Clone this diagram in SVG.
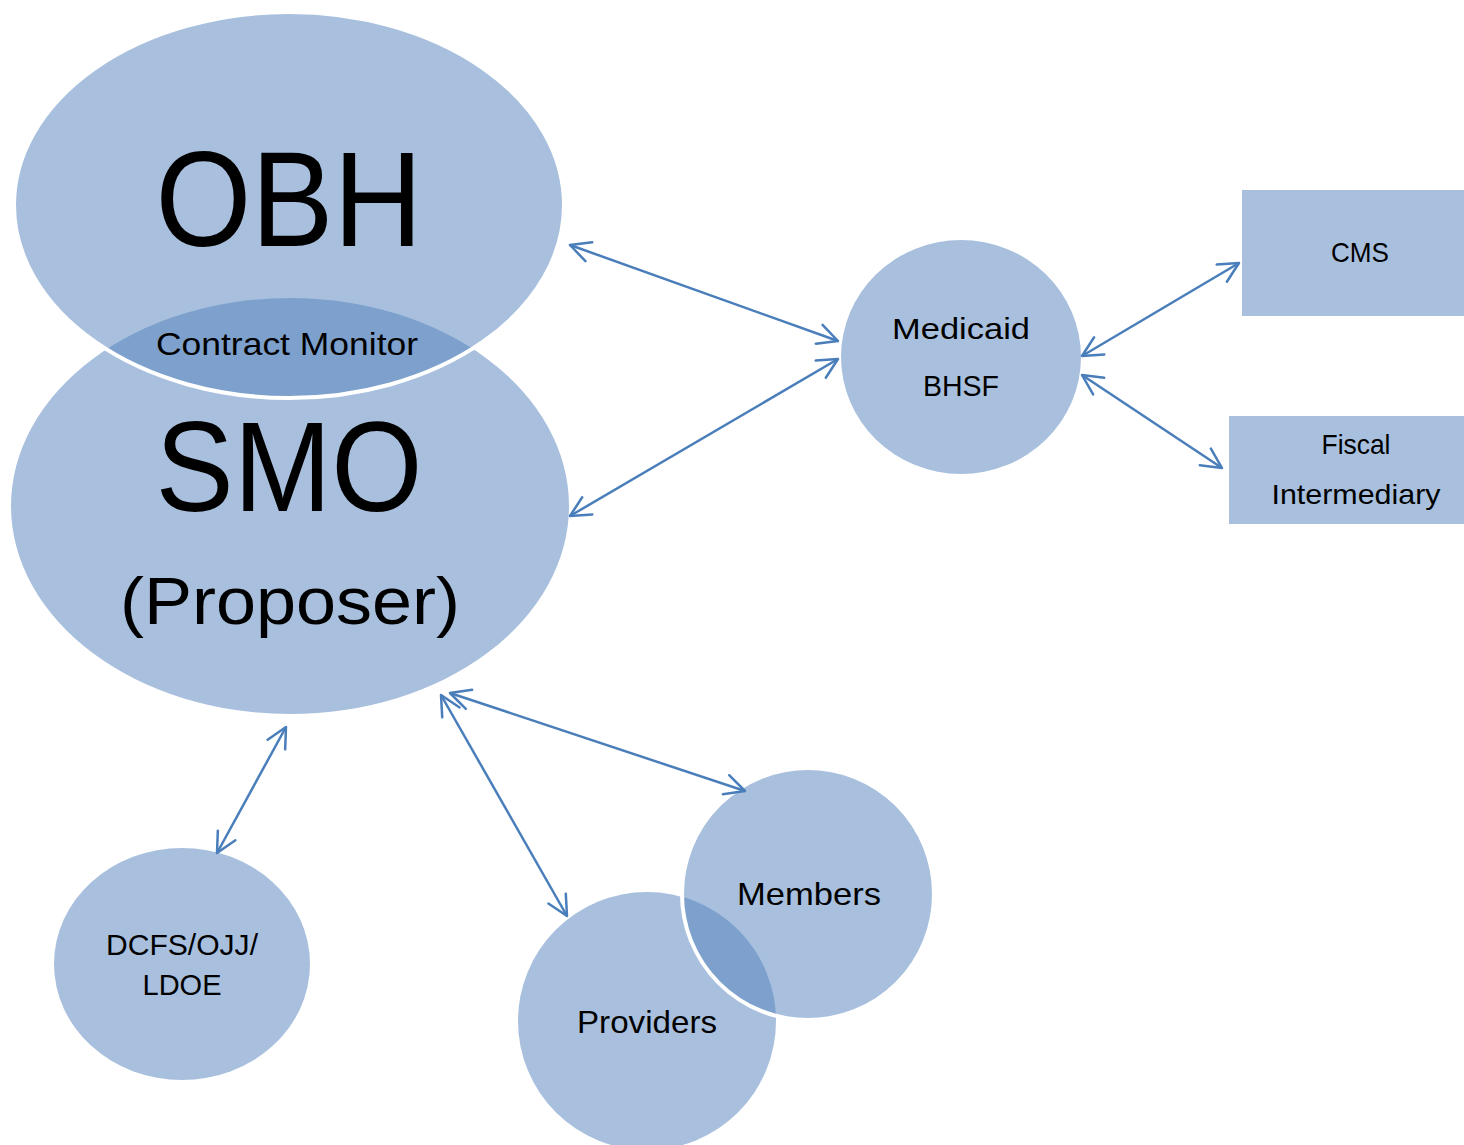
<svg xmlns="http://www.w3.org/2000/svg" width="1464" height="1145" viewBox="0 0 1464 1145">
<style>
.n{fill:#A8C0DE}
.d{fill:#7DA0CD}
.w{fill:none;stroke:#fff;stroke-width:4}
.t{font-family:"Liberation Sans",Arial,sans-serif;fill:#000}
.c{stroke:#4A7EBB;stroke-width:2.5;fill:none;marker-start:url(#ah);marker-end:url(#ah)}
</style>
<defs>
<marker id="ah" viewBox="-22 -12 24 24" markerWidth="24" markerHeight="24" refX="0" refY="0" orient="auto-start-reverse" markerUnits="userSpaceOnUse">
<path d="M-20,-10 L0,0 L-20,10" fill="none" stroke="#4A7EBB" stroke-width="2.5" stroke-linecap="round" stroke-linejoin="round"/>
</marker>
<clipPath id="obhClip"><ellipse cx="289" cy="205" rx="275" ry="193"/></clipPath>
<clipPath id="memClip"><circle cx="808" cy="894" r="126"/></clipPath>
</defs>
<rect width="1464" height="1145" fill="#fff"/>
<g id="smo">
<ellipse class="n" cx="290" cy="506" rx="279" ry="208"/>
</g>
<g id="obh">
<ellipse class="n" cx="289" cy="205" rx="275" ry="193"/>
</g>
<g id="contract-monitor">
<ellipse class="d" cx="290" cy="506" rx="279" ry="208" clip-path="url(#obhClip)"/>
<ellipse class="w" cx="289" cy="205" rx="275" ry="193"/>
<text class="t" x="287" y="355" font-size="32" text-anchor="middle" textLength="262" lengthAdjust="spacingAndGlyphs">Contract Monitor</text>
</g>
<text class="t" x="289" y="246" font-size="135" text-anchor="middle" textLength="267" lengthAdjust="spacingAndGlyphs">OBH</text>
<text class="t" x="289" y="511" font-size="128" text-anchor="middle" textLength="267" lengthAdjust="spacingAndGlyphs">SMO</text>
<text class="t" x="290" y="624" font-size="66" text-anchor="middle" textLength="340" lengthAdjust="spacingAndGlyphs">(Proposer)</text>
<g id="medicaid">
<ellipse class="n" cx="961" cy="357" rx="120" ry="117"/>
<text class="t" x="961" y="339" font-size="30" text-anchor="middle" textLength="138" lengthAdjust="spacingAndGlyphs">Medicaid</text>
<text class="t" x="961" y="396" font-size="30" text-anchor="middle" textLength="76" lengthAdjust="spacingAndGlyphs">BHSF</text>
</g>
<g id="cms">
<rect class="n" x="1242" y="190" width="222" height="126"/>
<text class="t" x="1360" y="262" font-size="28" text-anchor="middle" textLength="58" lengthAdjust="spacingAndGlyphs">CMS</text>
</g>
<g id="fiscal">
<rect class="n" x="1229" y="416" width="235" height="108"/>
<text class="t" x="1356" y="454" font-size="28" text-anchor="middle" textLength="69" lengthAdjust="spacingAndGlyphs">Fiscal</text>
<text class="t" x="1356" y="504" font-size="28" text-anchor="middle" textLength="169" lengthAdjust="spacingAndGlyphs">Intermediary</text>
</g>
<g id="dcfs">
<ellipse class="n" cx="182" cy="964" rx="128" ry="116"/>
<text class="t" x="182" y="955" font-size="30" text-anchor="middle" textLength="152" lengthAdjust="spacingAndGlyphs">DCFS/OJJ/</text>
<text class="t" x="182" y="995" font-size="30" text-anchor="middle" textLength="79" lengthAdjust="spacingAndGlyphs">LDOE</text>
</g>
<g id="providers">
<circle class="n" cx="647" cy="1021" r="129"/>
</g>
<g id="members">
<circle class="n" cx="808" cy="894" r="126"/>
<circle class="d" cx="647" cy="1021" r="129" clip-path="url(#memClip)"/>
<circle class="w" cx="808" cy="894" r="126"/>
<text class="t" x="809" y="905" font-size="32" text-anchor="middle" textLength="144" lengthAdjust="spacingAndGlyphs">Members</text>
</g>
<text class="t" x="647" y="1033" font-size="32" text-anchor="middle" textLength="140" lengthAdjust="spacingAndGlyphs">Providers</text>
<g id="connectors">
<line class="c" x1="570" y1="245" x2="838" y2="341"/>
<line class="c" x1="570" y1="516" x2="838" y2="359"/>
<line class="c" x1="1082" y1="356" x2="1239" y2="263"/>
<line class="c" x1="1082" y1="375" x2="1222" y2="468"/>
<line class="c" x1="286" y1="727" x2="217" y2="853"/>
<line class="c" x1="450" y1="693" x2="745" y2="791"/>
<line class="c" x1="441" y1="695" x2="567" y2="916"/>
</g>
</svg>
